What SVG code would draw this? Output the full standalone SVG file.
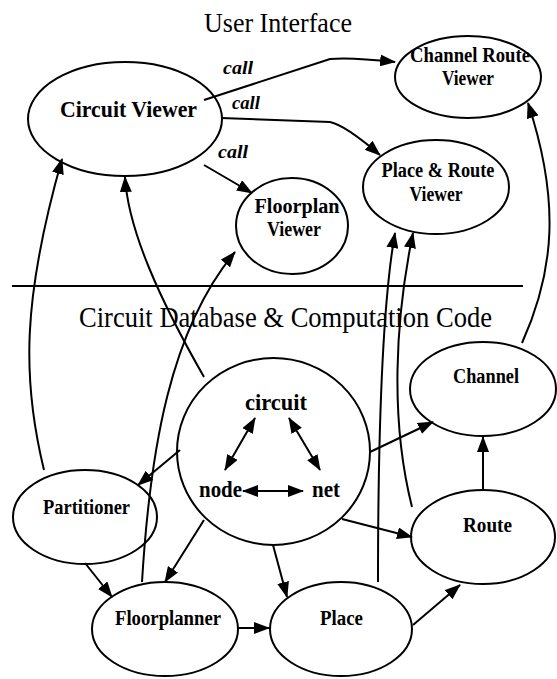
<svg xmlns="http://www.w3.org/2000/svg" width="557" height="679" viewBox="0 0 557 679">
<style>
.n{fill:none;stroke:#000;stroke-width:2}
.e{fill:none;stroke:#000;stroke-width:2}
.t{font-family:"Liberation Serif","Times New Roman",serif;font-weight:bold;text-anchor:middle;fill:#000}
.h{font-family:"Liberation Serif","Times New Roman",serif;font-weight:normal;text-anchor:middle;fill:#000}
.c{font-family:"Liberation Serif","Times New Roman",serif;font-weight:bold;font-style:italic;font-size:19px;text-anchor:middle;fill:#000}
</style>
<defs>
<marker id="a" viewBox="0 0 16 12" refX="15" refY="6" markerWidth="16" markerHeight="12" markerUnits="userSpaceOnUse" orient="auto-start-reverse">
<path d="M0,0 L16,6 L0,12 z" fill="#000"/>
</marker>
</defs>
<rect width="557" height="679" fill="#fff"/>
<text class="h" x="278" y="32" style="font-size:27px" textLength="148" lengthAdjust="spacingAndGlyphs">User Interface</text>
<line x1="12" y1="286" x2="523" y2="286" stroke="#000" stroke-width="2"/>
<text class="h" x="285.5" y="327" style="font-size:29px" textLength="413" lengthAdjust="spacingAndGlyphs">Circuit Database &amp; Computation Code</text>

<g id="edges">
<path class="e" marker-end="url(#a)" d="M204,100 L330,59 Q350,57 395,62"/>
<path class="e" marker-end="url(#a)" d="M221,118 L330,122 Q345,125 380,155"/>
<path class="e" marker-end="url(#a)" d="M204,165 L252,193"/>
<path class="e" marker-end="url(#a)" d="M44,470 C22,380 22,300 62,159"/>
<path class="e" marker-end="url(#a)" d="M204,377 C160,300 128,230 125,177"/>
<path class="e" marker-end="url(#a)" d="M142,582 C150,450 170,330 235,252"/>
<path class="e" marker-end="url(#a)" d="M180,450 L138,485"/>
<path class="e" marker-end="url(#a)" d="M85,563 L112,597"/>
<path class="e" marker-end="url(#a)" d="M204,520 L165,582"/>
<path class="e" marker-end="url(#a)" d="M238,628 L269,628"/>
<path class="e" marker-end="url(#a)" d="M273,545 L287,597"/>
<path class="e" marker-end="url(#a)" d="M342,519 L412,537"/>
<path class="e" marker-end="url(#a)" d="M413,625 L460,585"/>
<path class="e" marker-end="url(#a)" d="M483,489 L483,437"/>
<path class="e" marker-end="url(#a)" d="M370,452 L433,422"/>
<path class="e" marker-end="url(#a)" d="M522,343 C555,270 560,200 528,103"/>
<path class="e" marker-end="url(#a)" d="M378,582 C378,420 383,300 395,233"/>
<path class="e" marker-end="url(#a)" d="M412,507 C390,420 395,320 413,233"/>
<path class="e" marker-start="url(#a)" marker-end="url(#a)" d="M255,418 L225,470"/>
<path class="e" marker-start="url(#a)" marker-end="url(#a)" d="M289,418 L320,470"/>
<path class="e" marker-start="url(#a)" marker-end="url(#a)" d="M243,491 L303,491"/>
<text class="c" x="238" y="74" textLength="30" lengthAdjust="spacingAndGlyphs">call</text>
<text class="c" x="246" y="109" textLength="28" lengthAdjust="spacingAndGlyphs">call</text>
<text class="c" x="233" y="158" textLength="30" lengthAdjust="spacingAndGlyphs">call</text>
</g>

<g id="circuit-viewer">
<ellipse class="n" cx="125" cy="119" rx="97" ry="57"/>
<text class="t" x="128.5" y="117" style="font-size:24px" textLength="137" lengthAdjust="spacingAndGlyphs">Circuit Viewer</text>
</g>
<g id="channel-route-viewer">
<ellipse class="n" cx="468" cy="77" rx="73" ry="41"/>
<text class="t" x="470" y="62" style="font-size:20px" textLength="120" lengthAdjust="spacingAndGlyphs">Channel Route</text>
<text class="t" x="468" y="85" style="font-size:20px" textLength="52" lengthAdjust="spacingAndGlyphs">Viewer</text>
</g>
<g id="place-route-viewer">
<ellipse class="n" cx="436" cy="187" rx="73" ry="47"/>
<text class="t" x="438" y="177" style="font-size:20px" textLength="113" lengthAdjust="spacingAndGlyphs">Place &amp; Route</text>
<text class="t" x="436" y="201" style="font-size:20px" textLength="53" lengthAdjust="spacingAndGlyphs">Viewer</text>
</g>
<g id="floorplan-viewer">
<ellipse class="n" cx="292" cy="226" rx="56" ry="48"/>
<text class="t" x="297" y="213" style="font-size:20px" textLength="85" lengthAdjust="spacingAndGlyphs">Floorplan</text>
<text class="t" x="294" y="236" style="font-size:20px" textLength="54" lengthAdjust="spacingAndGlyphs">Viewer</text>
</g>
<g id="circuit">
<ellipse class="n" cx="273.5" cy="451.5" rx="96.5" ry="93.5"/>
<text class="t" x="276" y="410" style="font-size:24px" textLength="62" lengthAdjust="spacingAndGlyphs">circuit</text>
<text class="t" x="220.5" y="497" style="font-size:23px" textLength="43" lengthAdjust="spacingAndGlyphs">node</text>
<text class="t" x="326" y="497" style="font-size:23px" textLength="28" lengthAdjust="spacingAndGlyphs">net</text>
</g>
<g id="channel">
<ellipse class="n" cx="483" cy="389" rx="73" ry="47"/>
<text class="t" x="486" y="383" style="font-size:20px" textLength="66" lengthAdjust="spacingAndGlyphs">Channel</text>
</g>
<g id="partitioner">
<ellipse class="n" cx="85" cy="517" rx="72" ry="47"/>
<text class="t" x="86.5" y="514" style="font-size:20px" textLength="87" lengthAdjust="spacingAndGlyphs">Partitioner</text>
</g>
<g id="route">
<ellipse class="n" cx="483" cy="537" rx="72" ry="47"/>
<text class="t" x="487.5" y="532" style="font-size:20px" textLength="49" lengthAdjust="spacingAndGlyphs">Route</text>
</g>
<g id="floorplanner">
<ellipse class="n" cx="165" cy="629" rx="73" ry="47"/>
<text class="t" x="168" y="625" style="font-size:20px" textLength="106" lengthAdjust="spacingAndGlyphs">Floorplanner</text>
</g>
<g id="place">
<ellipse class="n" cx="341" cy="629" rx="71" ry="47"/>
<text class="t" x="341.5" y="625" style="font-size:20px" textLength="43" lengthAdjust="spacingAndGlyphs">Place</text>
</g>
</svg>
